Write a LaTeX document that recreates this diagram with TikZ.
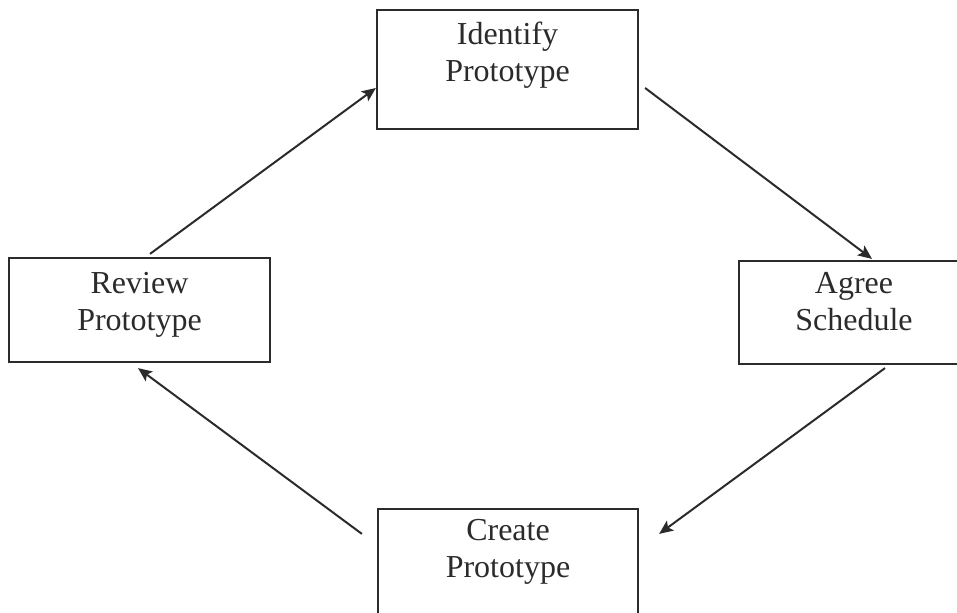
\documentclass[tikz,border=0pt]{standalone}
\usepackage{fontspec}
\setmainfont{Liberation Serif}
\usetikzlibrary{arrows.meta}
\definecolor{ink}{HTML}{2B2B2B}
\begin{document}
\begin{tikzpicture}[x=0.5pt,y=-0.5pt,
  stagebox/.style={draw=ink, line width=1.1pt, rectangle, inner sep=0pt},
  stagetext/.style={anchor=north, inner sep=0pt, align=center, text=ink,
    font=\fontsize{16pt}{18.5pt}\selectfont},
  flow/.style={draw=ink, line width=1pt, -{Stealth[length=7pt,width=6pt,inset=1.5pt]}}]
\useasboundingbox (0,0) rectangle (957,613);

% the four stages of the prototyping cycle
\node[stagebox, minimum width=130.5pt, minimum height=59.5pt] (id) at (507.5,69.5) {};
\node[stagebox, minimum width=115pt, minimum height=51.5pt] (ag) at (854,312.5) {};
\node[stagebox, minimum width=130.5pt, minimum height=52pt] (rev) at (139.5,310) {};
\node[stagebox, minimum width=130pt, minimum height=60.5pt] (cr) at (508,569.5) {};

\node[stagetext] (idt) at ([yshift=-6.3pt]id.north) {Identify\\Prototype};
\node[stagetext] (agt) at ([yshift=-6pt]ag.north) {Agree\\Schedule};
\node[stagetext] (revt) at ([yshift=-7.5pt]rev.north) {Review\\Prototype};
\node[stagetext] (crt) at ([yshift=-5.5pt]cr.north) {Create\\Prototype};

% arrows going round the cycle
\draw[flow] ([xshift=5.25pt,yshift=1.5pt]rev.north) -- ([yshift=-9.25pt]id.west);
\draw[flow] ([xshift=3pt,yshift=-9.25pt]id.east) -- ([xshift=9pt,yshift=0.5pt]ag.north);
\draw[flow] ([xshift=15.5pt,yshift=-1.5pt]ag.south) -- ([xshift=10pt,yshift=-13pt]cr.north east);
\draw[flow] ([xshift=-7.5pt,yshift=-13pt]cr.north west) -- ([xshift=-0.75pt,yshift=-2.5pt]rev.south);
\end{tikzpicture}
\end{document}
